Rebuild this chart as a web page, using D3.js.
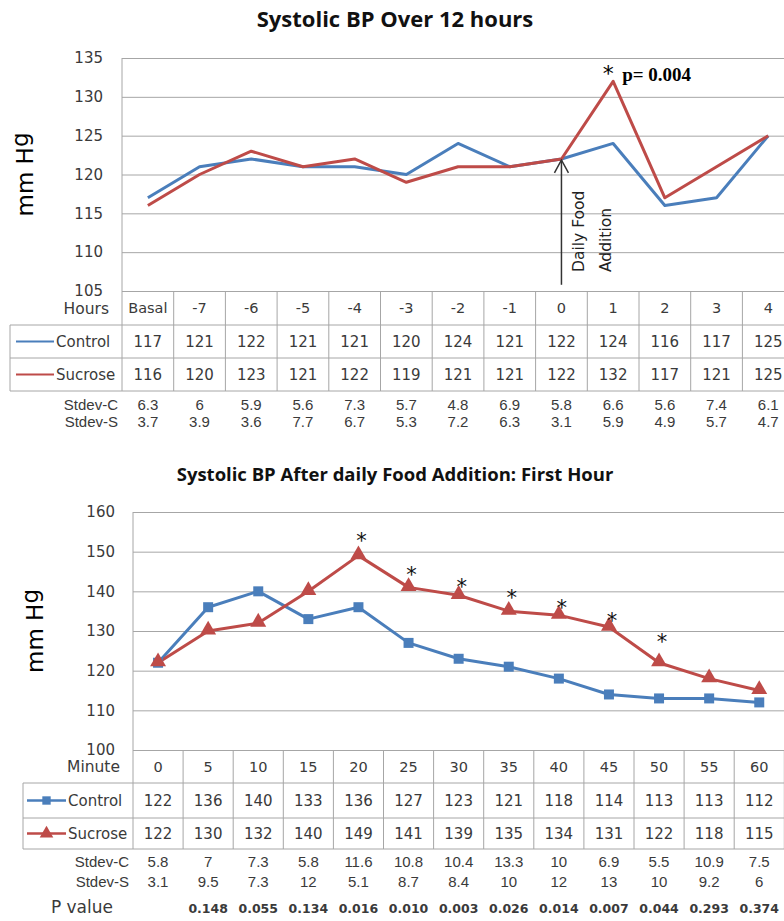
<!DOCTYPE html>
<html lang="en">
<head>
  <meta charset="UTF-8">
  <title>Systolic BP</title>
  <style>
    body { margin: 0; background: #fff; }
    svg { display: block; }
  </style>
  <script src="https://d3js.org/d3.v7.min.js"></script>
</head>
<body>
  <div id="chart"></div>
  <script>
    // ---- data: 12 hour panel ----
    const hours = ["Basal", "-7", "-6", "-5", "-4", "-3", "-2", "-1", "0", "1", "2", "3", "4"];
    const controlHourly = [117, 121, 122, 121, 121, 120, 124, 121, 122, 124, 116, 117, 125];
    const sucroseHourly = [116, 120, 123, 121, 122, 119, 121, 121, 122, 132, 117, 121, 125];
    const stdevCHourly = ["6.3", "6", "5.9", "5.6", "7.3", "5.7", "4.8", "6.9", "5.8", "6.6", "5.6", "7.4", "6.1"];
    const stdevSHourly = ["3.7", "3.9", "3.6", "7.7", "6.7", "5.3", "7.2", "6.3", "3.1", "5.9", "4.9", "5.7", "4.7"];
    const hourTicks = [105, 110, 115, 120, 125, 130, 135];

    // ---- data: first hour panel ----
    const minutes = ["0", "5", "10", "15", "20", "25", "30", "35", "40", "45", "50", "55", "60"];
    const controlMinute = [122, 136, 140, 133, 136, 127, 123, 121, 118, 114, 113, 113, 112];
    const sucroseMinute = [122, 130, 132, 140, 149, 141, 139, 135, 134, 131, 122, 118, 115];
    const stdevCMinute = ["5.8", "7", "7.3", "5.8", "11.6", "10.8", "10.4", "13.3", "10", "6.9", "5.5", "10.9", "7.5"];
    const stdevSMinute = ["3.1", "9.5", "7.3", "12", "5.1", "8.7", "8.4", "10", "12", "13", "10", "9.2", "6"];
    const pValues = ["", "0.148", "0.055", "0.134", "0.016", "0.010", "0.003", "0.026", "0.014", "0.007", "0.044", "0.293", "0.374"];
    const minuteTicks = [100, 110, 120, 130, 140, 150, 160];
    // significant minutes and the level (mm Hg) where each * sits
    const starMinutes = ["20", "25", "30", "35", "40", "45", "50"];
    const starLevels = [151.3, 142.7, 139.7, 136.9, 134.2, 130.9, 125.6];

    const W = 784, H = 921;
    const blue = "#4a7ebb", red = "#be4b48";
    const gridColor = "#a6a6a6", txt = "#3a3a3a";

    const svg = d3.select("#chart").append("svg")
      .attr("width", W)
      .attr("height", H);

    function drawPanel(p) {
      const x = d3.scaleBand()
        .domain(p.cats)
        .range([p.left, p.left + p.colW * p.cats.length]);
      const y = d3.scaleLinear()
        .domain(d3.extent(p.ticks))
        .range([p.bottom, p.top]);
      const g = svg.append("g");

      g.append("text")
        .attr("x", 395).attr("y", p.titleY)
        .attr("text-anchor", "middle")
        .attr("fill", "#111")
        .style("font", `bold ${p.titleSize}px 'Open Sans'`)
        .text(p.title);

      const yl = g.append("text")
        .attr("transform", `translate(${p.ylabX},${(p.top + p.bottom) / 2}) rotate(-90)`)
        .attr("text-anchor", "middle")
        .style("font", "23px 'DejaVu Sans'")
        .text("mm H");
      yl.append("tspan").attr("dy", "-0.22em").text("g");

      // gridlines + tick labels
      const ax = g.append("g")
        .attr("transform", `translate(${p.left},0)`)
        .call(d3.axisLeft(y).tickValues(p.ticks).tickSize(-(W - p.left)).tickPadding(p.tickPad));
      ax.select(".domain").remove();
      ax.selectAll(".tick line").attr("stroke", gridColor);
      ax.selectAll(".tick text")
        .attr("fill", txt)
        .style("font", "15px 'DejaVu Sans'");

      // data table
      const headB = p.bottom + p.headH;
      const row1B = headB + p.rowH[0];
      const row2B = row1B + p.rowH[1];
      const cx = d => x(d) + x.bandwidth() / 2;

      const tbl = g.append("g").attr("stroke", gridColor).attr("fill", "none");
      tbl.append("line").attr("x1", p.left).attr("x2", p.left).attr("y1", p.top).attr("y2", row2B);
      [headB, row1B, row2B].forEach(yy =>
        tbl.append("line").attr("x1", p.boxLeft).attr("x2", W).attr("y1", yy).attr("y2", yy));
      tbl.append("line").attr("x1", p.boxLeft).attr("x2", p.boxLeft).attr("y1", headB).attr("y2", row2B);
      p.cats.forEach(c =>
        tbl.append("line")
          .attr("x1", x(c) + x.bandwidth()).attr("x2", x(c) + x.bandwidth())
          .attr("y1", p.bottom).attr("y2", row2B));

      const cell = (xx, yy, t, font, anchor) => g.append("text")
        .attr("x", xx).attr("y", yy).attr("dy", "0.36em")
        .attr("text-anchor", anchor || "middle")
        .attr("fill", txt)
        .style("font", font)
        .text(t);

      const headMid = (p.bottom + headB) / 2;
      const r1Mid = (headB + row1B) / 2;
      const r2Mid = (row1B + row2B) / 2;
      cell(p.left - 13, headMid, p.headLabel, "15.5px 'DejaVu Sans'", "end");
      p.cats.forEach(c => cell(cx(c), headMid, c, "14.5px 'DejaVu Sans'"));
      p.ctrl.forEach((v, i) => cell(cx(p.cats[i]), r1Mid, v, "15px 'DejaVu Sans'"));
      p.sucr.forEach((v, i) => cell(cx(p.cats[i]), r2Mid, v, "15px 'DejaVu Sans'"));
      cell(p.legText, r1Mid, "Control", "15px 'DejaVu Sans'", "start");
      cell(p.legText, r2Mid, "Sucrose", "15px 'DejaVu Sans'", "start");

      // legend keys
      const keyX1 = p.boxLeft + p.keyPad, keyX2 = p.legText - 2;
      g.append("line").attr("x1", keyX1).attr("x2", keyX2).attr("y1", r1Mid).attr("y2", r1Mid)
        .attr("stroke", blue).attr("stroke-width", p.markers ? 2.5 : 2);
      g.append("line").attr("x1", keyX1).attr("x2", keyX2).attr("y1", r2Mid).attr("y2", r2Mid)
        .attr("stroke", red).attr("stroke-width", p.markers ? 2.5 : 2);
      if (p.markers) {
        const km = (keyX1 + keyX2) / 2;
        g.append("path").attr("d", d3.symbol(d3.symbolSquare, 70)())
          .attr("transform", `translate(${km},${r1Mid})`).attr("fill", blue);
        g.append("path").attr("d", d3.symbol(d3.symbolTriangle, 80)())
          .attr("transform", `translate(${km},${r2Mid})`).attr("fill", red);
      }

      // stdev rows
      const sd = "15px 'Liberation Sans'";
      cell(p.left - 4, p.sdY[0], "Stdev-C", sd, "end");
      cell(p.left - 4, p.sdY[1], "Stdev-S", sd, "end");
      p.sdC.forEach((v, i) => cell(cx(p.cats[i]), p.sdY[0], v, sd));
      p.sdS.forEach((v, i) => cell(cx(p.cats[i]), p.sdY[1], v, sd));

      // series
      const line = d3.line().x((d, i) => cx(p.cats[i])).y(d => y(d));
      [[p.ctrl, blue], [p.sucr, red]].forEach(([vals, col]) =>
        g.append("path").datum(vals)
          .attr("fill", "none").attr("stroke", col)
          .attr("stroke-width", 3).attr("stroke-linejoin", "round")
          .attr("d", line));

      if (p.markers) {
        g.selectAll(null).data(p.ctrl).join("path")
          .attr("d", d3.symbol(d3.symbolSquare, 100)())
          .attr("transform", (d, i) => `translate(${cx(p.cats[i])},${y(d)})`)
          .attr("fill", blue);
        g.selectAll(null).data(p.sucr).join("path")
          .attr("d", d3.symbol(d3.symbolTriangle, 110)())
          .attr("transform", (d, i) => `translate(${cx(p.cats[i])},${y(d) - 1})`)
          .attr("fill", red);
      }

      return { g, x, y, cx, cell };
    }

    // ---- top panel ----
    const hourPanel = drawPanel({
      title: "Systolic BP Over 12 hours", titleY: 27, titleSize: 22,
      cats: hours, ctrl: controlHourly, sucr: sucroseHourly,
      sdC: stdevCHourly, sdS: stdevSHourly, ticks: hourTicks,
      left: 122, colW: 51.7, top: 58, bottom: 291, tickPad: 19, ylabX: 33,
      headH: 34, rowH: [33, 33], boxLeft: 10, keyPad: 6, legText: 56,
      headLabel: "Hours", sdY: [405, 422], markers: false
    });

    // daily food addition arrow at hour 0
    const ax0 = hourPanel.cx("0");
    const tipY = hourPanel.y(sucroseHourly[8]) + 1;
    hourPanel.g.append("line")
      .attr("x1", ax0).attr("x2", ax0)
      .attr("y1", hourPanel.y(105.8)).attr("y2", tipY)
      .attr("stroke", "#333").attr("stroke-width", 1.5);
    hourPanel.g.append("path")
      .attr("d", `M${ax0 - 7},${tipY + 13}L${ax0},${tipY}L${ax0 + 7},${tipY + 13}`)
      .attr("fill", "none").attr("stroke", "#333").attr("stroke-width", 1.5);
    const ann = hourPanel.g.append("text")
      .attr("transform", `translate(${ax0 + 23},272) rotate(-90)`)
      .attr("fill", "#222")
      .style("font", "15.5px 'DejaVu Sans'");
    ann.append("tspan").attr("x", 0).attr("y", 0).text("Daily Food");
    ann.append("tspan").attr("x", 0).attr("y", 27).text("Addition");

    // significance marker at hour 1
    hourPanel.g.append("text")
      .attr("x", hourPanel.cx("1") - 5).attr("y", hourPanel.y(sucroseHourly[9]))
      .attr("text-anchor", "middle")
      .style("font", "22px 'DejaVu Sans'")
      .text("*");
    hourPanel.g.append("text")
      .attr("x", hourPanel.cx("1") + 9).attr("y", hourPanel.y(sucroseHourly[9]))
      .style("font", "bold 19px 'Liberation Serif'")
      .text("p= 0.004");

    // ---- bottom panel ----
    const minutePanel = drawPanel({
      title: "Systolic BP After daily Food Addition: First Hour", titleY: 481, titleSize: 18.5,
      cats: minutes, ctrl: controlMinute, sucr: sucroseMinute,
      sdC: stdevCMinute, sdS: stdevSMinute, ticks: minuteTicks,
      left: 133, colW: 50.1, top: 512, bottom: 750, tickPad: 18, ylabX: 43,
      headH: 33, rowH: [35, 31], boxLeft: 23, keyPad: 4, legText: 68,
      headLabel: "Minute", sdY: [862, 882], markers: true
    });

    starMinutes.forEach((m, i) =>
      minutePanel.g.append("text")
        .attr("x", minutePanel.cx(m) + 3).attr("y", minutePanel.y(starLevels[i]) + 1)
        .attr("text-anchor", "middle")
        .attr("fill", "#111")
        .style("font", "21px 'DejaVu Sans'")
        .text("*"));

    // p value row
    minutePanel.cell(113, 907, "P value", "17px 'DejaVu Sans'", "end");
    pValues.forEach((v, i) => minutePanel.cell(minutePanel.cx(minutes[i]), 908, v, "bold 12.5px 'DejaVu Sans'"));
  </script>
</body>
</html>
